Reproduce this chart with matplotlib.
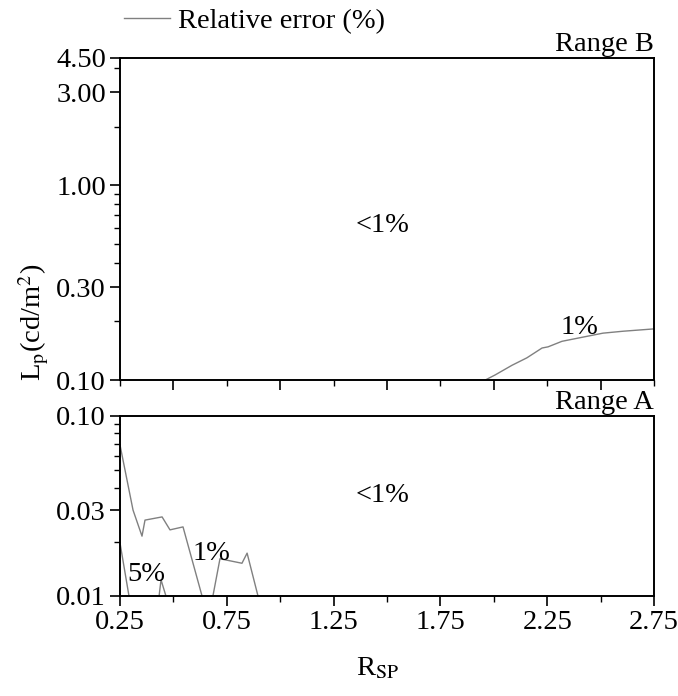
import numpy as np
from matplotlib import pyplot as plt
from matplotlib.lines import Line2D
from matplotlib.ticker import FixedLocator, LogLocator, MultipleLocator, NullFormatter

plt.rcParams['font.family'] = ['Liberation Serif', 'DejaVu Serif']
plt.rcParams['mathtext.fontset'] = 'stix'
plt.rcParams['font.size'] = 20.5

# Range B: 1% contour
b_rsp = [1.96, 2.005, 2.085, 2.155, 2.226, 2.254, 2.319, 2.417, 2.511, 2.605, 2.75]
b_lp = [0.100, 0.106, 0.119, 0.130, 0.146, 0.148, 0.158, 0.166, 0.174, 0.178, 0.183]

# Range A: 1% contour (two pieces, breaks below 0.01)
a1_rsp = [0.25, 0.311, 0.353, 0.367, 0.447, 0.484, 0.545, 0.634, np.nan,
          0.685, 0.718, 0.821, 0.845, 0.896]
a1_lp = [0.069, 0.030, 0.0215, 0.0264, 0.0275, 0.0233, 0.0242, 0.010, np.nan,
         0.010, 0.0161, 0.0152, 0.0173, 0.010]

# Range A: 5% contour
a5_rsp = [0.25, 0.292, np.nan, 0.433, 0.442, 0.465]
a5_lp = [0.0197, 0.010, np.nan, 0.010, 0.0123, 0.010]

line_color = '#808080'

fig = plt.figure(figsize=(6.78, 6.96), dpi=100)
ax_b = fig.add_axes([0.177, 0.454, 0.7876, 0.4627])
ax_a = fig.add_axes([0.177, 0.1437, 0.7876, 0.2586])

ax_b.plot(b_rsp, b_lp, color=line_color, linewidth=1.0)
ax_a.plot(a1_rsp, a1_lp, color=line_color, linewidth=1.0)
ax_a.plot(a5_rsp, a5_lp, color=line_color, linewidth=1.0)

for ax in (ax_b, ax_a):
    ax.set_yscale('log')
    ax.set_xlim(0.25, 2.75)
    ax.xaxis.set_major_locator(MultipleLocator(0.5))
    ax.xaxis.set_minor_locator(MultipleLocator(0.25))
    ax.yaxis.set_minor_locator(LogLocator(base=10, subs=np.arange(2, 10)))
    ax.yaxis.set_minor_formatter(NullFormatter())
    ax.tick_params(which='major', direction='out', length=7, width=1.2, pad=3)
    ax.tick_params(which='minor', direction='out', length=4, width=1.0)
    for s in ax.spines.values():
        s.set_linewidth(1.4)

ax_b.set_ylim(0.1, 4.5)
ax_b.yaxis.set_major_locator(FixedLocator([0.1, 0.3, 1.0, 3.0, 4.5]))
ax_b.set_yticklabels(['0.10', '0.30', '1.00', '3.00', '4.50'])
ax_b.tick_params(axis='x', labelbottom=False)

ax_a.set_ylim(0.01, 0.1)
ax_a.yaxis.set_major_locator(FixedLocator([0.01, 0.03, 0.1]))
ax_a.set_yticklabels(['0.01', '0.03', '0.10'])
ax_a.set_xticks([0.25, 0.75, 1.25, 1.75, 2.25, 2.75])
ax_a.set_xticklabels(['0.25', '0.75', '1.25', '1.75', '2.25', '2.75'])

ax_b.text(1.0, 1.003, 'Range B', transform=ax_b.transAxes, ha='right', va='bottom')
ax_a.text(1.0, 1.003, 'Range A', transform=ax_a.transAxes, ha='right', va='bottom')

ax_b.text(1.48, 0.62, '<1%', ha='center', va='center')
ax_b.text(2.40, 0.187, '1%', ha='center', va='center')
ax_a.text(1.48, 0.036, '<1%', ha='center', va='center')
ax_a.text(0.676, 0.0172, '1%', ha='center', va='center')
ax_a.text(0.372, 0.0132, '5%', ha='center', va='center')

fig.text(0.05, 0.537, r'L$_\mathrm{p}$(cd/m$^2$)', rotation=90, ha='center', va='center')
fig.text(0.557, 0.04, r'R$_\mathrm{SP}$', ha='center', va='center')

handle = Line2D([], [], color=line_color, linewidth=1.0)
ax_b.legend([handle], ['Relative error (%)'], loc='lower left', bbox_to_anchor=(0.008, 1.075),
            frameon=False, handlelength=1.6, handletextpad=0.3, borderpad=0, borderaxespad=0)

plt.savefig('out.png', dpi=100)
